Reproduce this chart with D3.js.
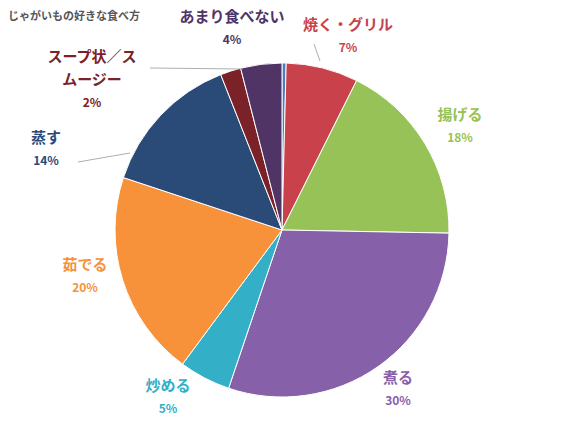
<!DOCTYPE html><html><head><meta charset="utf-8"><script src="https://cdn.jsdelivr.net/npm/d3@7"></script>
<style>body{margin:0;background:#fff}text{font-family:"Noto Sans CJK JP",sans-serif;font-weight:bold}</style></head><body><svg width="563" height="431"></svg><script>
const categories=["その他","焼く・グリル","揚げる","煮る","炒める","茹でる","蒸す","スープ状／スムージー","あまり食べない"];
const values=[0.4,7,18,30,5,20,14,2,4];
const pctLabels=["","7%","18%","30%","5%","20%","14%","2%","4%"];
const colors=["#4A7EC0","#C9414A","#96C257","#8660A8","#33AFC8","#F7923A","#2A4A78","#7B2128","#4F3465"];
const labelLines=[null,["焼く・グリル"],["揚げる"],["煮る"],["炒める"],["茹でる"],["蒸す"],["スープ状／ス","ムージー"],["あまり食べない"]];
const labelPos=[null,[348,30],[460,120],[398,383],[168,391],[85,270],[46,143],[92,62],[232,22]];
const svg=d3.select("svg");
svg.append("text").attr("x",8).attr("y",20).attr("font-size",11).attr("fill","#555").text("じゃがいもの好きな食べ方");
const cx=282,cy=230,R=167;
const pie=d3.pie().sort(null).value(d=>d)(values);
const arc=d3.arc().innerRadius(0).outerRadius(R);
const g=svg.append("g").attr("transform",`translate(${cx},${cy})`);
g.selectAll("path").data(pie).join("path").attr("d",arc).attr("fill",(d,i)=>colors[i]).attr("stroke","#fff").attr("stroke-width",1);
// leader lines
const lines=[[[320,61],[314,44]],[[243,69],[150,68]],[[130,153],[78,162]]];
lines.forEach(l=>svg.append("polyline").attr("points",l.map(p=>p.join(",")).join(" ")).attr("fill","none").attr("stroke","#999").attr("stroke-width",0.8));
labelLines.forEach((ls,i)=>{if(!ls)return;const [x,y]=labelPos[i];
 ls.forEach((t,j)=>svg.append("text").attr("x",x).attr("y",y+j*23).attr("text-anchor","middle").attr("font-size",15).attr("fill",colors[i]).text(t));
 svg.append("text").attr("x",x).attr("y",y+ls.length*23-1).attr("text-anchor","middle").attr("font-size",12).attr("fill",colors[i]).text(pctLabels[i]);
});
</script></body></html>
